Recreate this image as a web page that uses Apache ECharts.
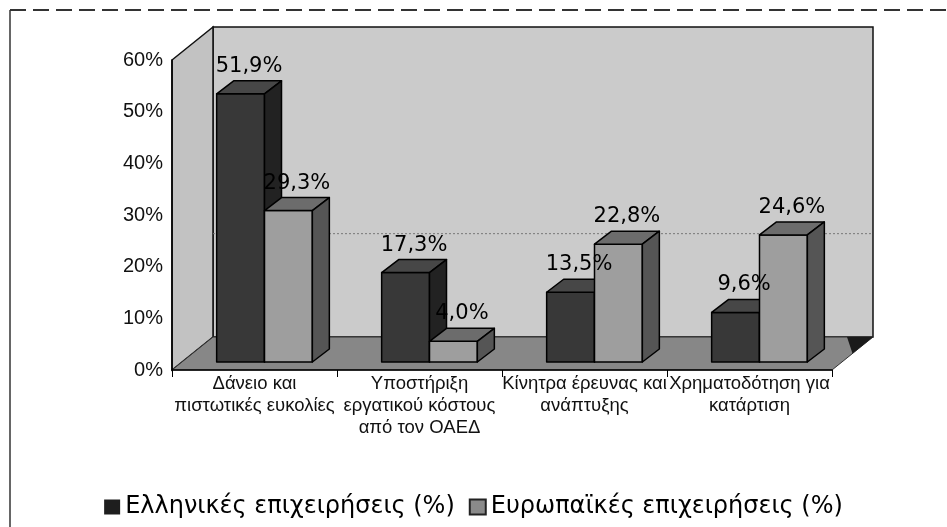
<!DOCTYPE html>
<html lang="el">
<head>
  <meta charset="UTF-8">
  <title>Κίνητρα επιχειρήσεων</title>
  <script src="https://cdn.jsdelivr.net/npm/echarts@6/dist/echarts.min.js"></script>
  <style>
    html, body { margin: 0; padding: 0; width: 100%; height: 100%; background: #fff; }
    #chart { width: 947px; height: 527px; }
  </style>
</head>
<body>
  <div id="chart"></div>
  <script>
    // --- data ---
    const categories = [
      'Δάνειο και\nπιστωτικές ευκολίες',
      'Υποστήριξη\nεργατικού κόστους\nαπό τον ΟΑΕΔ',
      'Κίνητρα έρευνας και\nανάπτυξης',
      'Χρηματοδότηση για\nκατάρτιση'
    ];
    const seriesNames = ['Ελληνικές επιχειρήσεις (%)', 'Ευρωπαϊκές επιχειρήσεις (%)'];
    const greekValues = [51.9, 17.3, 13.5, 9.6];
    const europeanValues = [29.3, 4.0, 22.8, 24.6];
    const yMin = 0, yMax = 60, yStep = 10;
    const backGridValues = [20];

    // --- 3D look ---
    const WALL_DX = 41, WALL_DY = -33;   // depth of walls / floor
    const BAR_OX = 10, BAR_OY = -8;      // bars sit a little behind the front plane
    const BAR_DX = 17, BAR_DY = -13;     // bar depth
    const BAR_RATIO = 0.29;              // of band width, per bar

    const fmt = v => v.toFixed(1).replace('.', ',') + '%';

    const chart = echarts.init(document.getElementById('chart'));

    function wallsRender(params, api) {
      const cs = params.coordSys;
      const x = cs.x, y = cs.y, w = cs.width, h = cs.height;
      const fy = y + h;
      const kids = [];
      // back wall
      kids.push({
        type: 'polygon',
        shape: { points: [[x + WALL_DX, y + WALL_DY], [x + w + WALL_DX, y + WALL_DY], [x + w + WALL_DX, fy + WALL_DY], [x + WALL_DX, fy + WALL_DY]] },
        style: { fill: '#cbcbcb', stroke: '#111', lineWidth: 1.5 }
      });
      // left wall
      kids.push({
        type: 'polygon',
        shape: { points: [[x, y], [x + WALL_DX, y + WALL_DY], [x + WALL_DX, fy + WALL_DY], [x, fy]] },
        style: { fill: '#c2c2c2', stroke: '#111', lineWidth: 1.5 }
      });
      // floor
      kids.push({
        type: 'polygon',
        shape: { points: [[x, fy], [x + w, fy], [x + w + WALL_DX, fy + WALL_DY], [x + WALL_DX, fy + WALL_DY]] },
        style: { fill: '#878787', stroke: '#333', lineWidth: 1 }
      });
      // dark corner at the right of the floor
      kids.push({
        type: 'polygon',
        shape: { points: [[x + w + WALL_DX - 26, fy + WALL_DY], [x + w + WALL_DX, fy + WALL_DY], [x + w + WALL_DX / 2, fy + WALL_DY / 2]] },
        style: { fill: '#1a1a1a' }
      });
      // gridlines on back wall
      backGridValues.forEach(g => {
        const gy = api.coord([0, g])[1] + WALL_DY;
        kids.push({
          type: 'line',
          shape: { x1: x + WALL_DX, y1: gy, x2: x + w + WALL_DX, y2: gy },
          style: { stroke: '#777', lineWidth: 1, lineDash: [2, 2] }
        });
      });
      return { type: 'group', children: kids };
    }

    function barRender(side, c) {
      return function (params, api) {
        const cat = api.value(0), v = api.value(1);
        const base = api.coord([cat, 0]);
        const top = api.coord([cat, v]);
        const bw = api.size([1, 0])[0] * BAR_RATIO;
        const x0 = base[0] + BAR_OX + (side === 0 ? -bw : 0);
        const x1 = x0 + bw;
        const yb = base[1] + BAR_OY, yt = top[1] + BAR_OY;
        const line = { stroke: '#000', lineWidth: 1.5, lineJoin: 'round' };
        return {
          type: 'group',
          children: [
            { type: 'polygon', shape: { points: [[x0, yb], [x1, yb], [x1, yt], [x0, yt]] },
              style: Object.assign({ fill: c.front }, line) },
            { type: 'polygon', shape: { points: [[x0, yt], [x1, yt], [x1 + BAR_DX, yt + BAR_DY], [x0 + BAR_DX, yt + BAR_DY]] },
              style: Object.assign({ fill: c.top }, line) },
            { type: 'polygon', shape: { points: [[x1, yb], [x1 + BAR_DX, yb + BAR_DY], [x1 + BAR_DX, yt + BAR_DY], [x1, yt]] },
              style: Object.assign({ fill: c.side }, line) },
            { type: 'text', z2: 100, x: (x0 + x1) / 2 + BAR_DX / 2, y: yt + BAR_DY - 4,
              style: { text: fmt(v), fill: '#000', font: '21px "DejaVu Sans"', align: 'center', verticalAlign: 'bottom' } }
          ]
        };
      };
    }

    const darkColors = { front: '#383838', top: '#474747', side: '#222' };
    const lightColors = { front: '#9e9e9e', top: '#6c6c6c', side: '#555' };

    const option = {
      animation: false,
      backgroundColor: '#fff',
      grid: { left: 172, right: 115, top: 60, bottom: 157 },
      legend: {
        data: seriesNames,
        top: 490,
        left: 'center',
        icon: 'rect',
        itemWidth: 16,
        itemHeight: 15,
        itemGap: 14,
        textStyle: { fontFamily: 'DejaVu Sans', fontSize: 24, color: '#000' }
      },
      xAxis: {
        type: 'category',
        data: categories,
        axisLine: { lineStyle: { color: '#000', width: 1.5 } },
        axisTick: { show: true, length: 7, lineStyle: { color: '#000' } },
        axisLabel: {
          interval: 0, margin: 3, color: '#111',
          fontFamily: 'Liberation Sans', fontSize: 18.5, lineHeight: 22
        },
        splitLine: { show: false }
      },
      yAxis: {
        type: 'value',
        min: yMin, max: yMax, interval: yStep,
        axisLine: { show: true, lineStyle: { color: '#000', width: 1.5 } },
        axisTick: { show: false },
        axisLabel: {
          formatter: '{value}%', margin: 9, color: '#111',
          fontFamily: 'Liberation Sans', fontSize: 20
        },
        splitLine: { show: false }
      },
      graphic: [
        { type: 'line', shape: { x1: 10, y1: 10, x2: 10, y2: 527 }, style: { stroke: '#333', lineWidth: 1.5 } },
        { type: 'line', shape: { x1: 10, y1: 10, x2: 947, y2: 10 }, style: { stroke: '#333', lineWidth: 2, lineDash: [16, 7] } }
      ],
      series: [
        {
          type: 'custom',
          z: -1,
          silent: true,
          renderItem: wallsRender,
          data: [[0, 0]]
        },
        {
          name: seriesNames[0],
          type: 'custom',
          itemStyle: { color: '#1e1e1e' },
          renderItem: barRender(0, darkColors),
          data: greekValues.map((v, i) => [i, v])
        },
        {
          name: seriesNames[1],
          type: 'custom',
          itemStyle: { color: '#8a8a8a', borderColor: '#222', borderWidth: 1 },
          renderItem: barRender(1, lightColors),
          data: europeanValues.map((v, i) => [i, v])
        }
      ]
    };

    chart.setOption(option);
  </script>
</body>
</html>
